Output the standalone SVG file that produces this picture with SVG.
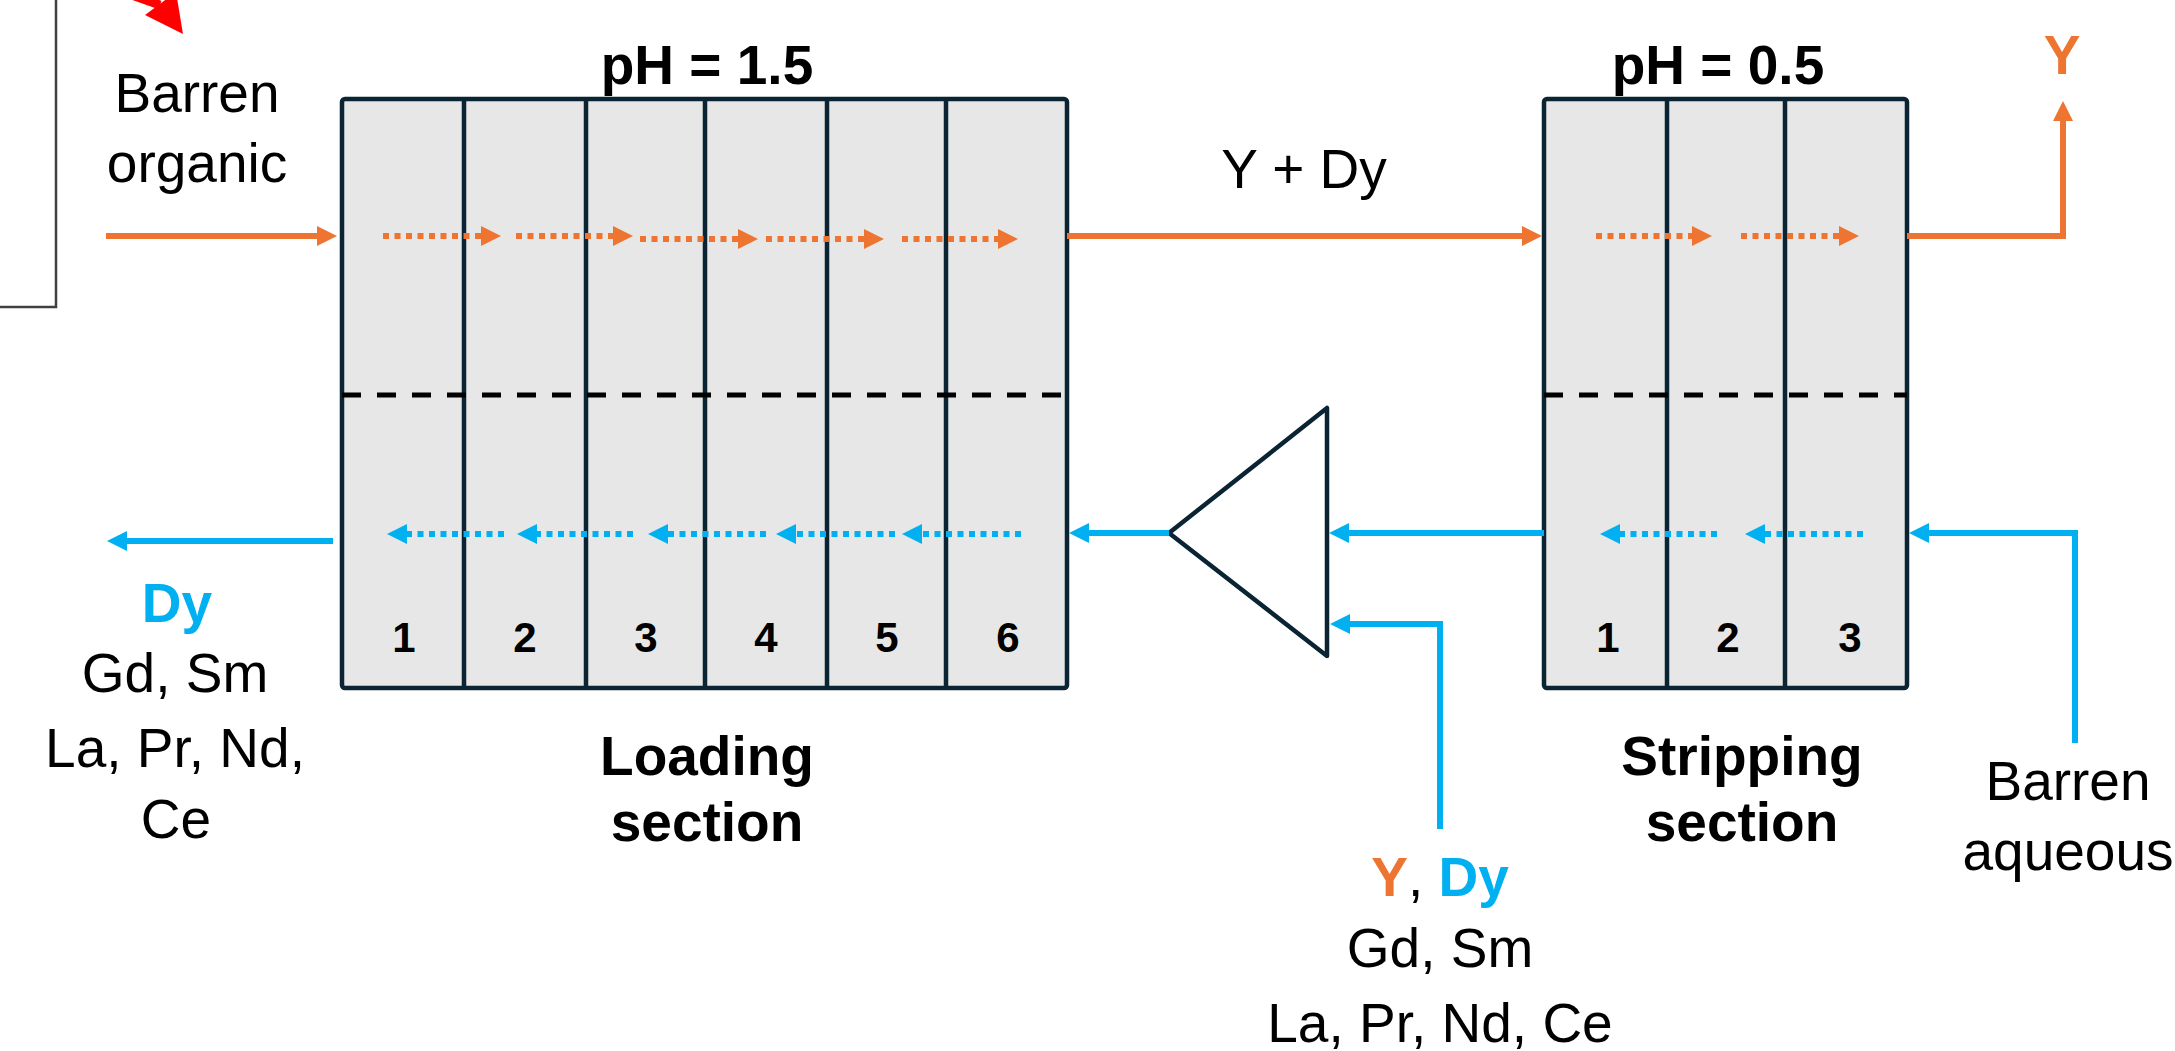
<svg xmlns="http://www.w3.org/2000/svg" width="2175" height="1051" viewBox="0 0 2175 1051">
<style>
text{font-family:"Liberation Sans",Arial,sans-serif;fill:#000}
.r{font-size:55px;text-anchor:middle}
.b{font-size:55px;font-weight:bold;text-anchor:middle}
.n{font-size:42px;font-weight:bold;text-anchor:middle}
.box{fill:#e7e7e7;stroke:#0b2434;stroke-width:4.5}
.div{stroke:#0b2434;stroke-width:4.5}
.dash{stroke:#000;stroke-width:5;stroke-dasharray:19 16}
.o{stroke:#ED7431;stroke-width:6;fill:none}
.bl{stroke:#00B0F0;stroke-width:6;fill:none}
.od{stroke:#ED7431;stroke-width:6;stroke-dasharray:6 5.5;fill:none}
.bd{stroke:#00B0F0;stroke-width:6;stroke-dasharray:6 5.5;fill:none}
.org{fill:#ED7431}
.blu{fill:#00B0F0}
</style>
<defs>
<marker id="ao" viewBox="0 0 20 20" refX="2" refY="10" markerWidth="20" markerHeight="20" markerUnits="userSpaceOnUse" orient="auto"><path d="M0,0 L20,10 L0,20 z" fill="#ED7431"/></marker>
<marker id="ab" viewBox="0 0 20 20" refX="2" refY="10" markerWidth="20" markerHeight="20" markerUnits="userSpaceOnUse" orient="auto"><path d="M0,0 L20,10 L0,20 z" fill="#00B0F0"/></marker>
</defs>
<rect width="2175" height="1051" fill="#fff"/>

<g id="partial-frame">
<rect x="-10" y="-10" width="66" height="317" fill="#fff" stroke="#404040" stroke-width="2.5"/>
</g>
<g id="red-arrow">
<path d="M118,-10 Q140,-2 160,5" stroke="#ff0000" stroke-width="9" fill="none"/>
<polygon points="183,34 145,15 176,-8" fill="#ff0000"/>
</g>

<g id="loading">
<rect class="box" x="342" y="99" width="725" height="589" rx="3"/>
<line class="div" x1="464" y1="99" x2="464" y2="688"/>
<line class="div" x1="586" y1="99" x2="586" y2="688"/>
<line class="div" x1="705" y1="99" x2="705" y2="688"/>
<line class="div" x1="827" y1="99" x2="827" y2="688"/>
<line class="div" x1="946" y1="99" x2="946" y2="688"/>
<line class="dash" x1="342" y1="395" x2="1067" y2="395"/>
<text class="n" x="404" y="652">1</text>
<text class="n" x="525" y="652">2</text>
<text class="n" x="646" y="652">3</text>
<text class="n" x="766" y="652">4</text>
<text class="n" x="887" y="652">5</text>
<text class="n" x="1008" y="652">6</text>
<text class="b" x="707" y="84">pH = 1.5</text>
<text class="b" x="707" y="775">Loading</text>
<text class="b" x="707" y="841">section</text>
</g>

<g id="stripping">
<rect class="box" x="1544" y="99" width="363" height="589" rx="3"/>
<line class="div" x1="1667" y1="99" x2="1667" y2="688"/>
<line class="div" x1="1785" y1="99" x2="1785" y2="688"/>
<line class="dash" x1="1544" y1="395" x2="1907" y2="395"/>
<text class="n" x="1608" y="652">1</text>
<text class="n" x="1728" y="652">2</text>
<text class="n" x="1850" y="652">3</text>
<text class="b" x="1718" y="84">pH = 0.5</text>
<text class="b" x="1742" y="775">Stripping</text>
<text class="b" x="1742" y="841">section</text>
</g>

<g id="mixer">
<polygon points="1169,533 1327,408 1327,656" fill="#fff" stroke="#0b2434" stroke-width="4.5" stroke-linejoin="round"/>
</g>

<g id="connectors">
<line class="od" x1="383" y1="236" x2="483" y2="236" marker-end="url(#ao)"/>
<line class="od" x1="516" y1="236" x2="615" y2="236" marker-end="url(#ao)"/>
<line class="od" x1="640" y1="239" x2="740" y2="239" marker-end="url(#ao)"/>
<line class="od" x1="766" y1="239" x2="866" y2="239" marker-end="url(#ao)"/>
<line class="od" x1="902" y1="239" x2="1000" y2="239" marker-end="url(#ao)"/>
<line class="od" x1="1596" y1="236" x2="1694" y2="236" marker-end="url(#ao)"/>
<line class="od" x1="1741" y1="236" x2="1841" y2="236" marker-end="url(#ao)"/>

<line class="bd" x1="504" y1="534" x2="405" y2="534" marker-end="url(#ab)"/>
<line class="bd" x1="633" y1="534" x2="535" y2="534" marker-end="url(#ab)"/>
<line class="bd" x1="766" y1="534" x2="666" y2="534" marker-end="url(#ab)"/>
<line class="bd" x1="895" y1="534" x2="794" y2="534" marker-end="url(#ab)"/>
<line class="bd" x1="1021" y1="534" x2="920" y2="534" marker-end="url(#ab)"/>
<line class="bd" x1="1717" y1="534" x2="1618" y2="534" marker-end="url(#ab)"/>
<line class="bd" x1="1863" y1="534" x2="1763" y2="534" marker-end="url(#ab)"/>

<line class="o" x1="106" y1="236" x2="319" y2="236" marker-end="url(#ao)"/>
<line class="o" x1="1067" y1="236" x2="1524" y2="236" marker-end="url(#ao)"/>
<polyline class="o" points="1907,236 2063,236 2063,119" marker-end="url(#ao)"/>

<line class="bl" x1="1544" y1="533" x2="1347" y2="533" marker-end="url(#ab)"/>
<line class="bl" x1="1169" y1="533" x2="1087" y2="533" marker-end="url(#ab)"/>
<line class="bl" x1="333" y1="541" x2="125" y2="541" marker-end="url(#ab)"/>
<polyline class="bl" points="1440,829 1440,624 1348,624" marker-end="url(#ab)"/>
<polyline class="bl" points="2075,743 2075,533 1927,533" marker-end="url(#ab)"/>
</g>

<g id="labels">
<text class="r" x="197" y="112">Barren</text>
<text class="r" x="197" y="182">organic</text>
<text class="r" x="1304" y="188">Y + Dy</text>
<text class="b" x="2062" y="74"><tspan class="org">Y</tspan></text>
<text class="b" x="177" y="622"><tspan class="blu">Dy</tspan></text>
<text class="r" x="175" y="692">Gd, Sm</text>
<text class="r" x="175" y="767">La, Pr, Nd,</text>
<text class="r" x="176" y="838">Ce</text>
<text class="r" x="1440" y="896"><tspan class="org" font-weight="bold">Y</tspan>, <tspan class="blu" font-weight="bold">Dy</tspan></text>
<text class="r" x="1440" y="967">Gd, Sm</text>
<text class="r" x="1440" y="1042">La, Pr, Nd, Ce</text>
<text class="r" x="2068" y="800">Barren</text>
<text class="r" x="2068" y="870">aqueous</text>
</g>
</svg>
